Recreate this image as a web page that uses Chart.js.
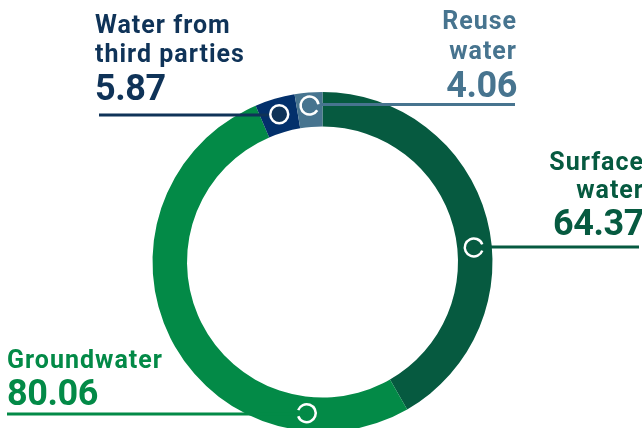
<!DOCTYPE html>
<html>
<head>
<meta charset="utf-8">
<script src="https://cdn.jsdelivr.net/npm/chart.js@4"></script>
<style>
  html, body { margin: 0; padding: 0; background: #fff; overflow: hidden; width: 642px; height: 428px; }
  #wrap { position: absolute; left: 0; top: 0; width: 645px; height: 524px; }
</style>
</head>
<body>
<div id="wrap"><canvas id="myChart" width="645" height="524"></canvas></div>
<script>
// Water withdrawal by source
const sources = ["Surface water", "Groundwater", "Water from third parties", "Reuse water"];
const values = [64.37, 80.06, 5.87, 4.06];
const valueLabels = ["64.37", "80.06", "5.87", "4.06"];
const colors = ["#065A40", "#038A47", "#03306B", "#47748F"];
const textColors = ["#065A40", "#038A47", "#0F3358", "#47748F"];

// label layout, one entry per source
const labelLayout = [
  { lines: ["Surface", "water"], x: 644, align: "right", base: [170, 198, 235], lineY: 247, lineTo: 639, at: 0.563, ring: 152, gap: 0 },
  { lines: ["Groundwater"], x: 7, align: "left", base: [368, 405], lineY: 414, lineTo: 7, at: 0.192, ring: 152, gap: Math.PI },
  { lines: ["Water from", "third parties"], x: 95, align: "left", base: [33, 62, 100], lineY: 115, lineTo: 99, at: 0.5, ring: 154, filled: true },
  { lines: ["Reuse", "water"], x: 517, align: "right", base: [29, 59, 97], lineY: 104.5, lineTo: 515, at: 0.5, ring: 157, gap: 0.2 },
];

const labelPlugin = {
  id: "labelPlugin",
  afterDraw(chart) {
    const ctx = chart.ctx;
    const arcs = chart.getDatasetMeta(0).data;
    ctx.save();
    labelLayout.forEach((lab, i) => {
      const arc = arcs[i];
      const ang = arc.startAngle + (arc.endAngle - arc.startAngle) * lab.at;
      const mx = arc.x + Math.cos(ang) * lab.ring;
      const my = arc.y + Math.sin(ang) * lab.ring;

      ctx.fillStyle = textColors[i];
      ctx.textAlign = lab.align;
      ctx.textBaseline = "alphabetic";
      ctx.font = "700 25px Roboto";
      ctx.letterSpacing = "1px";
      lab.lines.forEach((t, n) => ctx.fillText(t, lab.x, lab.base[n]));
      ctx.font = "700 36px Roboto";
      ctx.letterSpacing = "-0.4px";
      ctx.fillText(valueLabels[i], lab.x, lab.base[lab.lines.length]);

      // leader line
      ctx.strokeStyle = textColors[i];
      ctx.lineWidth = 3;
      ctx.beginPath();
      ctx.moveTo(lab.lineTo, lab.lineY);
      ctx.lineTo(mx, lab.lineY);
      ctx.stroke();

      // marker
      ctx.beginPath();
      if (lab.filled) {
        ctx.arc(mx, my, 9, 0, Math.PI * 2);
        ctx.fillStyle = "#0F3358";
        ctx.fill();
      } else {
        ctx.arc(mx, my, 9, lab.gap + 0.35, lab.gap + Math.PI * 2 - 0.35);
      }
      ctx.strokeStyle = "#fff";
      ctx.lineWidth = 2.5;
      ctx.stroke();
    });
    ctx.restore();
  },
};

const myChart = new Chart(document.querySelector("#myChart"), {
  type: "doughnut",
  data: {
    labels: sources,
    datasets: [
      {
        data: values,
        backgroundColor: colors,
        borderWidth: 0,
        radius: 170,
      },
    ],
  },
  options: {
    responsive: false,
    animation: false,
    devicePixelRatio: 1,
    cutout: "79.7%",
    plugins: {
      legend: { display: false },
      tooltip: { enabled: false },
    },
  },
  plugins: [labelPlugin],
});
</script>
</body>
</html>
